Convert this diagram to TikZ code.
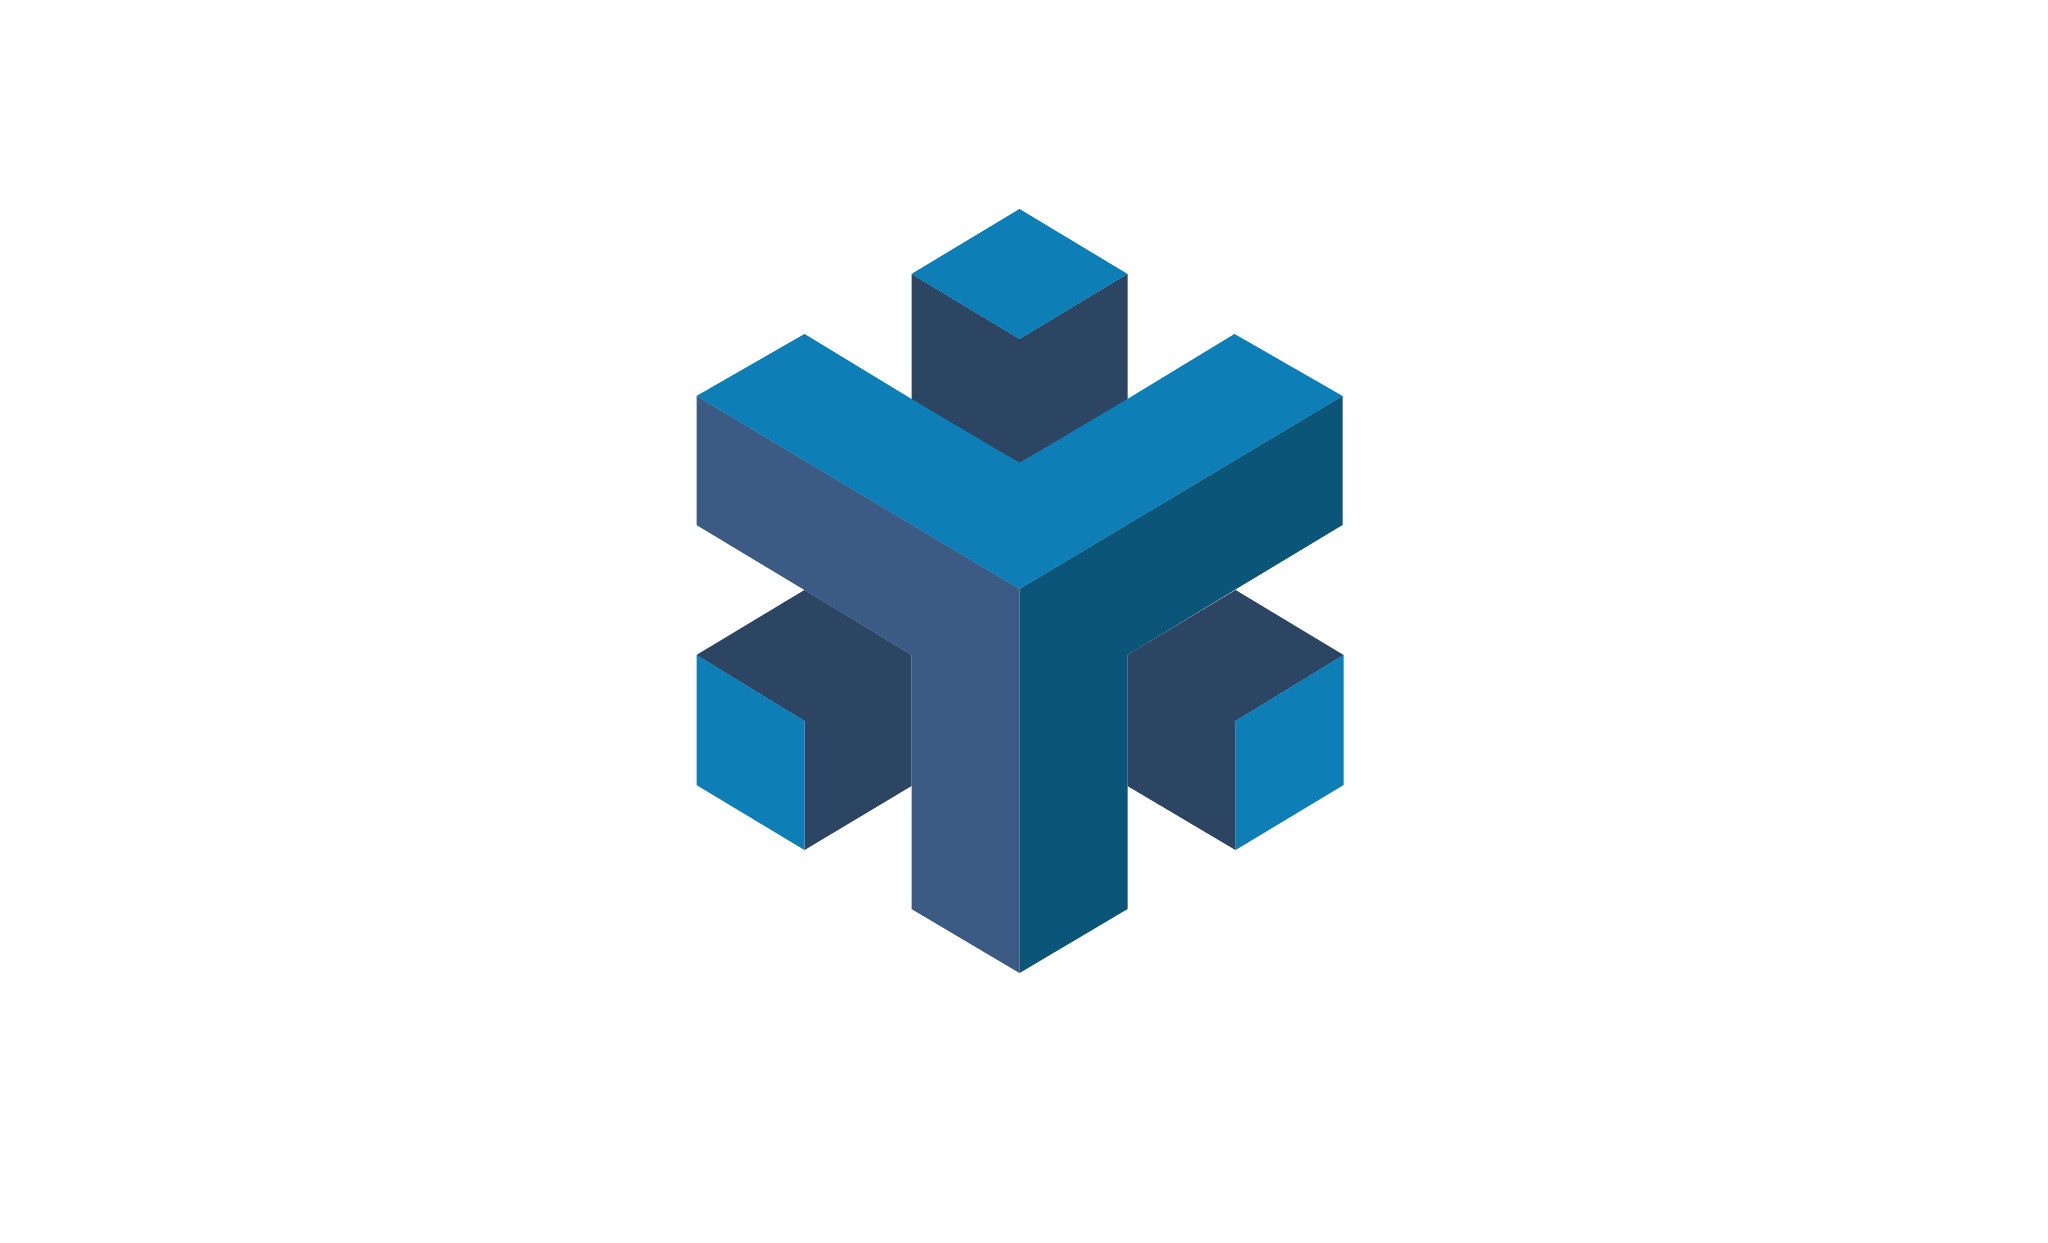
\documentclass[tikz,border=0pt]{standalone}
\usepackage{tikz}
\usetikzlibrary{calc,math}
\definecolor{topblue}{HTML}{0D7EB6}
\definecolor{shadeblue}{HTML}{2C4563}
\definecolor{leftblue}{HTML}{3B5B85}
\definecolor{rightblue}{HTML}{0A5578}

\begin{document}
\begin{tikzpicture}[x=0.01cm,y=-0.01cm,
    topface/.style={fill=topblue},
    shadeface/.style={fill=shadeblue},
    leftface/.style={fill=leftblue},
    rightface/.style={fill=rightblue}]
  \tikzmath{
      real \cx, \ca, \cb, \cc;
      \cx=1019.5;
      \ca=108;
      \cb=215;
      \cc=323;
  }
  \useasboundingbox[fill=white] (0,0) rectangle (2048,1243);
  % back cube
  \fill[shadeface] (\cx-\ca,274) -- (\cx,339) -- (\cx+\ca,274) -- (\cx+\ca,401) -- (\cx,463) -- (\cx-\ca,401) -- cycle;
  \fill[topface] (\cx-\ca,274) -- (\cx,209) -- (\cx+\ca,274) -- (\cx,339) -- cycle;
  % side cubes
  \foreach[evaluate={(\s+1)*0.5} as \dx] \s in {-1,1} {
    \fill[shadeface] (\cx+\dx+\s*\cc,655) -- (\cx+\dx+\s*\cb,590) -- (\cx+\s*\ca,655) -- (\cx+\s*\ca,786) -- (\cx+\dx+\s*\cb,850) -- (\cx+\dx+\s*\cb,721) -- cycle;
    \fill[topface] (\cx+\dx+\s*\cc,655) -- (\cx+\dx+\s*\cb,721) -- (\cx+\dx+\s*\cb,850) -- (\cx+\dx+\s*\cc,785) -- cycle;
  }
  % the Y
  \fill[leftface] (\cx-\cc,396) -- (\cx,589) -- (\cx,973) -- (\cx-\ca,909) -- (\cx-\ca,655) -- (\cx-\cb,590) -- (\cx-\cc,525) -- cycle;
  \fill[rightface] (\cx+\cc,396) -- (\cx,589) -- (\cx,973) -- (\cx+\ca,909) -- (\cx+\ca,655) -- (\cx+\cb,590) -- (\cx+\cc,525) -- cycle;
  \fill[topface] (\cx-\cc,396) -- (\cx-\cb,334) -- (\cx-\ca,399) -- (\cx,463) -- (\cx+\ca,399) -- (\cx+\cb,334) -- (\cx+\cc,396) -- (\cx,589) -- cycle;
\end{tikzpicture}
\end{document}
